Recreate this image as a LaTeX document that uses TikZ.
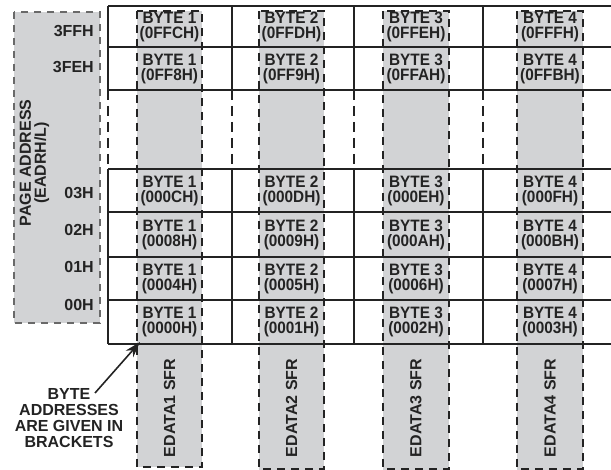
\documentclass[tikz,border=0pt]{standalone}
\usepackage{fontspec}
\setmainfont{Liberation Sans}
\newfontfamily\cellfont[FakeStretch=0.93]{Liberation Sans}
\usetikzlibrary{arrows.meta}
\definecolor{stripegray}{RGB}{210,211,213}
\definecolor{boxdash}{RGB}{105,105,105}
\definecolor{linegray}{RGB}{35,35,35}

\begin{document}
\begin{tikzpicture}[x=1pt,y=-1pt,>={Stealth[length=16pt,width=10pt]},
    cell/.style={font=\cellfont\bfseries\fontsize{16.5}{15}\selectfont,align=center,inner sep=0pt,text=linegray},
    pagelbl/.style={font=\bfseries\fontsize{16}{15}\selectfont,anchor=east,inner sep=0pt,text=linegray},
    sfrlbl/.style={font=\bfseries\fontsize{16}{15}\selectfont,rotate=90,inner sep=0pt,text=linegray},
    gridline/.style={line width=1.5pt,draw=linegray},
    stripedash/.style={line width=1.1pt,draw=linegray,dash pattern=on 8pt off 6pt},
    boxdashed/.style={line width=1.4pt,draw=boxdash,dash pattern=on 7pt off 6pt}]
    \useasboundingbox (0,0) rectangle (611,470);
    % 页地址灰框
    \fill[stripegray] (14,12) rectangle (100,323);
    \draw[boxdashed] (14,12) rectangle (100,323);
    % 四条灰色字节列
    \fill[stripegray] (137,11) rectangle (202,467);
    \fill[stripegray] (259,11) rectangle (324,470);
    \fill[stripegray] (383,11) rectangle (449,470);
    \fill[stripegray] (517,11) rectangle (583,470);
    % 表格横线
    \foreach \y in {6,47,90,169,212,257,300,344}
      \draw[gridline] (108,\y) -- (611,\y);
    % 表格竖线，中间一段为虚线
    \foreach \x in {108,232,354,483} {
      \draw[gridline] (\x,6) -- (\x,90);
      \draw[gridline] (\x,169) -- (\x,344);
      \draw[gridline,dash pattern=on 10pt off 6pt] (\x,90) -- (\x,169);
    }
    % 字节列虚线边框
    \draw[stripedash] (137,11) rectangle (202,467);
    \draw[stripedash] (259,11) rectangle (324,469);
    \draw[stripedash] (383,11) rectangle (449,469);
    \draw[stripedash] (517,11) rectangle (583,469);
    % 单元格文字
    \foreach \r/\y/\a/\b/\c/\d in {7/27/0FFC/0FFD/0FFE/0FFF,6/69/0FF8/0FF9/0FFA/0FFB,
        3/191/000C/000D/000E/000F,2/235/0008/0009/000A/000B,
        1/279/0004/0005/0006/0007,0/322/0000/0001/0002/0003} {
      \node[cell] (c\r-1) at (169.5,\y) {BYTE 1\\(\a H)};
      \node[cell] (c\r-2) at (291.5,\y) {BYTE 2\\(\b H)};
      \node[cell] (c\r-3) at (416,\y) {BYTE 3\\(\c H)};
      \node[cell] (c\r-4) at (550,\y) {BYTE 4\\(\d H)};
    }
    % 页地址
    \node[pagelbl] (p3ff) at (94,31) {3FFH};
    \node[pagelbl] (p3fe) at (94,67) {3FEH};
    \node[pagelbl] (p03) at (94,193) {03H};
    \node[pagelbl] (p02) at (94,230) {02H};
    \node[pagelbl] (p01) at (94,267) {01H};
    \node[pagelbl] (p00) at (94,305) {00H};
    \node[sfrlbl,align=center] (pagetitle) at (34.5,163) {PAGE ADDRESS\\(EADRH/L)};
    % SFR 标注
    \node[sfrlbl] (sfr1) at (169.5,408) {EDATA1 SFR};
    \node[sfrlbl] (sfr2) at (291.5,408) {EDATA2 SFR};
    \node[sfrlbl] (sfr3) at (416,408) {EDATA3 SFR};
    \node[sfrlbl] (sfr4) at (550,408) {EDATA4 SFR};
    % 说明与箭头
    \node[font=\bfseries\fontsize{16}{16}\selectfont,align=center,inner sep=0pt,text=linegray] (note) at (69,418)
      {BYTE\\ADDRESSES\\ARE GIVEN IN\\BRACKETS};
    \coordinate (tail) at (95,393);
    \coordinate (corner) at (140,342);
    \draw[->,line width=1.6pt,linegray] (tail) -- (corner);
\end{tikzpicture}
\end{document}
